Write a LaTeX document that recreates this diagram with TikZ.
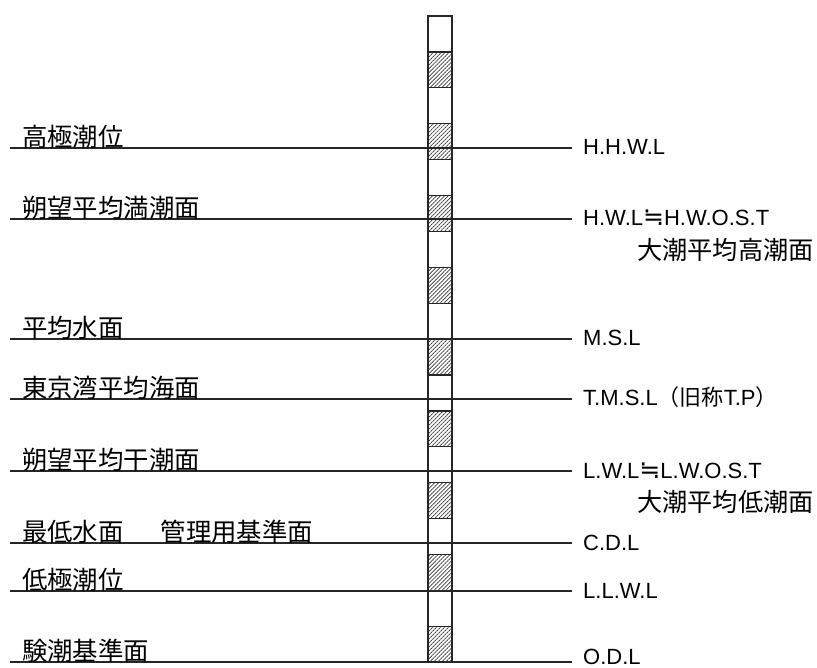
\documentclass[tikz,border=0pt]{standalone}
\usepackage{fontspec}
\setmainfont{Liberation Sans}
\newfontfamily\cjk{Noto Sans CJK JP}
\newfontfamily\symf{DejaVu Sans}
\usetikzlibrary{patterns.meta}
\begin{document}
\begin{tikzpicture}[x=1pt,y=-1pt,
  lvl/.style={line width=1.1pt, draw=black!85},
  staffbox/.style={line width=1.3pt, draw=black!85},
  hatch/.style={pattern={Lines[angle=45,distance=2.8pt,line width=0.7pt]}, pattern color=black!80},
  leftlab/.style={anchor=west, inner sep=0pt, font=\cjk\fontsize{25.4}{28}\selectfont},
  rightlab/.style={anchor=base west, inner sep=0pt, font=\fontsize{22}{26}\selectfont},
  sublab/.style={anchor=west, inner sep=0pt, font=\cjk\fontsize{25.2}{28}\selectfont}]
\useasboundingbox (0,0) rectangle (817,668);
% staff
\foreach \i in {1,3,...,17}{
  \fill[hatch] (428,{16+\i*35.9}) rectangle (452,{16+(\i+1)*35.9});
  \draw[staffbox] (428,{16+\i*35.9}) -- (452,{16+\i*35.9});
  \draw[staffbox] (428,{16+(\i+1)*35.9}) -- (452,{16+(\i+1)*35.9});
}
\draw[staffbox] (428,662.2) -- (428,16) -- (452,16) -- (452,662.2);
% levels
\foreach \nm/\y/\lt in {
  hhwl/148/{高極潮位},
  hwl/219/{朔望平均満潮面},
  msl/339/{平均水面},
  tmsl/399/{東京湾平均海面},
  lwl/471/{朔望平均干潮面},
  cdl/543/{最低水面\hspace*{37pt}管理用基準面},
  llwl/591/{低極潮位},
  odl/662/{験潮基準面}}{
  \coordinate (\nm L) at (10,\y);
  \coordinate (\nm R) at (572,\y);
  \draw[lvl] (\nm L) -- (\nm R);
  \node[leftlab] (\nm lt) at (22,\y-11) {\lt};
}
\foreach \nm/\y/\rt in {
  hhwl/155/{H.H.W.L},
  hwl/226/{H.W.L{\symf\fontsize{25}{26}\selectfont ≒}H.W.O.S.T},
  msl/346/{M.S.L},
  tmsl/406/{T.M.S.L{\cjk （旧称}T.P{\cjk ）}},
  lwl/478/{L.W.L{\symf\fontsize{25}{26}\selectfont ≒}L.W.O.S.T},
  cdl/550/{C.D.L},
  llwl/598/{L.L.W.L},
  odl/664/{O.D.L}}{
  \node[rightlab] (\nm rt) at (583,\y) {\rt};
}
\node[sublab] (hwlsub) at (637,250) {大潮平均高潮面};
\node[sublab] (lwlsub) at (637,502) {大潮平均低潮面};
\end{tikzpicture}
\end{document}
